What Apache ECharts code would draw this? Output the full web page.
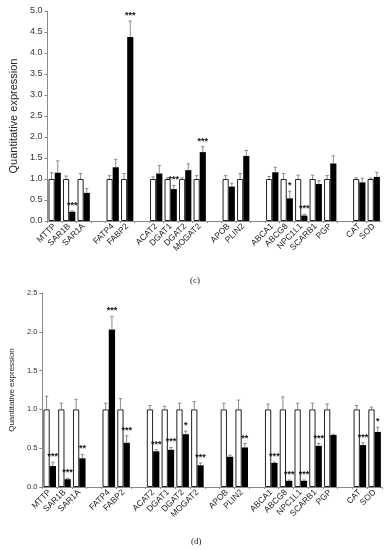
<!DOCTYPE html>
<html>
<head>
<meta charset="utf-8">
<script src="https://cdn.jsdelivr.net/npm/echarts@6/dist/echarts.min.js"></script>
<style>
  html, body { margin: 0; padding: 0; background: #fff; }
  #main { width: 388px; height: 550px; }
</style>
</head>
<body>
<div id="main"></div>
<script>
// gene groups, a blank slot sits between two groups
const groups = [
  ['MTTP', 'SAR1B', 'SAR1A'],
  ['FATP4', 'FABP2'],
  ['ACAT2', 'DGAT1', 'DGAT2', 'MOGAT2'],
  ['APOB', 'PLIN2'],
  ['ABCA1', 'ABCG8', 'NPC1L1', 'SCARB1', 'PGP'],
  ['CAT', 'SOD'],
]

// panel (c)
const ctrlC = [1, 1, 1, 1, 1, 1, 1, 1, 1, 1, 1, 1, 1, 1, 1, 1, 1, 1]
const ctrlErrC = [0.15, 0.07, 0.13, 0.08, 0.13, 0.05, 0.03, 0.03, 0.08, 0.08, 0.13, 0.06, 0.13, 0.09, 0.09, 0.08, 0.03, 0.02]
const treatC = [1.15, 0.22, 0.67, 1.28, 4.38, 1.13, 0.76, 1.21, 1.64, 0.82, 1.55, 1.16, 0.54, 0.13, 0.88, 1.37, 0.92, 1.05]
const treatErrC = [0.28, 0.02, 0.10, 0.19, 0.38, 0.19, 0.09, 0.15, 0.13, 0.08, 0.13, 0.12, 0.17, 0.03, 0.08, 0.18, 0.10, 0.11]
const starsC = ['', '***', '', '', '***', '', '***', '', '***', '', '', '', '*', '***', '', '', '', '']

// panel (d)
const ctrlD = [1, 1, 1, 1, 1, 1, 1, 1, 1, 1, 1, 1, 1, 1, 1, 1, 1, 1]
const ctrlErrD = [0.17, 0.08, 0.13, 0.08, 0.14, 0.05, 0.04, 0.08, 0.10, 0.08, 0.12, 0.07, 0.16, 0.08, 0.08, 0.07, 0.05, 0.03]
const treatD = [0.27, 0.10, 0.37, 2.03, 0.57, 0.46, 0.48, 0.68, 0.28, 0.39, 0.51, 0.31, 0.08, 0.08, 0.53, 0.67, 0.54, 0.71]
const treatErrD = [0.05, 0.01, 0.05, 0.17, 0.09, 0.02, 0.03, 0.04, 0.03, 0.02, 0.05, 0.01, 0.01, 0.01, 0.03, 0.01, 0.03, 0.06]
const starsD = ['***', '***', '**', '***', '***', '***', '***', '*', '***', '', '**', '***', '***', '***', '***', '', '***', '*']

const yTicksC = { min: 0, max: 5, interval: 0.5 }
const yTicksD = { min: 0, max: 2.5, interval: 0.5 }

// build the category slots
const slots = []
const slotOf = []
groups.forEach((g, gi) => {
  if (gi > 0) slots.push(' '.repeat(gi))
  g.forEach(name => {
    slotOf.push(slots.length)
    slots.push(name)
  })
})

const toSlots = arr => {
  const out = slots.map(() => null)
  arr.forEach((v, i) => { out[slotOf[i]] = v })
  return out
}

const CAT_GAP = 0.15
const FONT = '"Liberation Sans", Arial, sans-serif'

// error bar (and stars) drawn on top of one bar of the pair
function errRender(side, stars) {
  return function (params, api) {
    const idx = api.value(0)
    const m = api.value(1)
    const e = api.value(2)
    const base = api.coord([idx, m])
    const top = api.coord([idx, m + e])
    const cw = api.size([1, 0])[0]
    const bw = cw * (1 - CAT_GAP) / 2
    const cx = base[0] + side * bw / 2
    const cap = 1.7
    const children = [
      { type: 'line', shape: { x1: cx, y1: base[1], x2: cx, y2: top[1] }, style: { stroke: '#8a8a8a', lineWidth: 1 } },
      { type: 'line', shape: { x1: cx - cap, y1: top[1], x2: cx + cap, y2: top[1] }, style: { stroke: '#8a8a8a', lineWidth: 1 } },
    ]
    const s = stars && stars[params.dataIndex]
    if (s) {
      children.push({
        type: 'text',
        style: {
          text: s, x: cx, y: top[1] - 1,
          align: 'center', verticalAlign: 'bottom',
          font: 'bold 9px ' + FONT, fill: '#111',
        },
      })
    }
    return { type: 'group', children }
  }
}

const errData = (means, errs) => means.map((m, i) => [slotOf[i], m, errs[i]])

function xAxisFor(gridIndex) {
  return {
    type: 'category',
    gridIndex,
    data: slots,
    axisLine: { lineStyle: { color: '#8a8a8a', width: 1 } },
    axisTick: { show: true, interval: 0, length: 2, lineStyle: { color: '#8a8a8a' } },
    axisLabel: { interval: 0, rotate: 45, fontSize: 8.5, color: '#222', margin: 4, fontFamily: FONT },
    splitLine: { show: false },
  }
}

function yAxisFor(gridIndex, ticks, labelSize, nameSize, nameGap) {
  return {
    type: 'value',
    gridIndex,
    min: ticks.min,
    max: ticks.max,
    interval: ticks.interval,
    name: 'Quantitative expression',
    nameLocation: 'middle',
    nameGap,
    nameTextStyle: { fontSize: nameSize, color: '#222', fontFamily: FONT },
    axisLine: { show: true, lineStyle: { color: '#8a8a8a', width: 1 } },
    axisTick: { show: true, length: 3, lineStyle: { color: '#8a8a8a' } },
    axisLabel: { fontSize: labelSize, color: '#333', margin: 5, fontFamily: FONT, formatter: v => v.toFixed(1) },
    splitLine: { show: false },
  }
}

function barPair(axisIndex, ctrl, treat) {
  return [
    {
      type: 'bar', xAxisIndex: axisIndex, yAxisIndex: axisIndex,
      data: toSlots(ctrl), barGap: '0%', barCategoryGap: CAT_GAP * 100 + '%',
      itemStyle: { color: '#fff', borderColor: '#222', borderWidth: 1 },
      silent: true,
    },
    {
      type: 'bar', xAxisIndex: axisIndex, yAxisIndex: axisIndex,
      data: toSlots(treat), barGap: '0%', barCategoryGap: CAT_GAP * 100 + '%',
      itemStyle: { color: '#000' },
      silent: true,
    },
  ]
}

function errPair(axisIndex, ctrl, ctrlErr, treat, treatErr, stars) {
  return [
    {
      type: 'custom', xAxisIndex: axisIndex, yAxisIndex: axisIndex, z: 5,
      renderItem: errRender(-1, null), data: errData(ctrl, ctrlErr), silent: true,
    },
    {
      type: 'custom', xAxisIndex: axisIndex, yAxisIndex: axisIndex, z: 5,
      renderItem: errRender(1, stars), data: errData(treat, treatErr), silent: true,
    },
  ]
}

const chart = echarts.init(document.getElementById('main'), null, { renderer: 'canvas' })

const option = {
  animation: false,
  backgroundColor: '#fff',
  grid: [
    { left: 30, right: 7, top: 11, height: 210 },
    { left: 31, right: 6, top: 293, height: 194 },
  ],
  xAxis: [xAxisFor(0), xAxisFor(1)],
  yAxis: [
    yAxisFor(0, yTicksC, 9, 11, 14),
    yAxisFor(1, yTicksD, 7.5, 8, 16),
  ],
  graphic: [
    { type: 'text', left: 190, top: 276, style: { text: '(c)', font: '9px "Liberation Serif", serif', fill: '#222' } },
    { type: 'text', left: 191, top: 537, style: { text: '(d)', font: '9px "Liberation Serif", serif', fill: '#222' } },
  ],
  series: [
    ...barPair(0, ctrlC, treatC),
    ...errPair(0, ctrlC, ctrlErrC, treatC, treatErrC, starsC),
    ...barPair(1, ctrlD, treatD),
    ...errPair(1, ctrlD, ctrlErrD, treatD, treatErrD, starsD),
  ],
}

chart.setOption(option)
</script>
</body>
</html>
